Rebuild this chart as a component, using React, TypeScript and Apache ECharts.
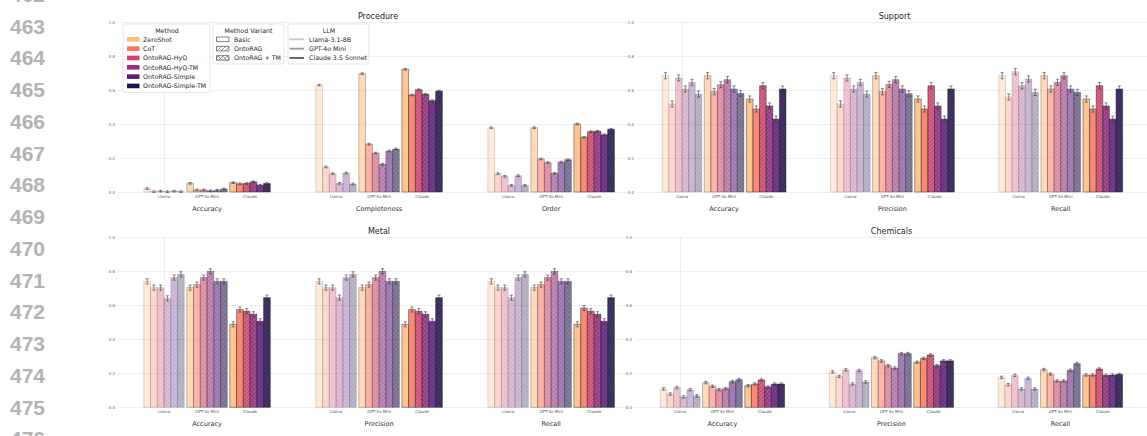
import React, { useEffect, useRef } from 'react';
import * as echarts from 'echarts';

// ---------- data ----------
const methods = ['ZeroShot', 'CoT', 'OntoRAG-HyQ', 'OntoRAG-HyQ-TM', 'OntoRAG-Simple', 'OntoRAG-Simple-TM'];
const methodColors = ['#febb81', '#f8765c', '#d3436e', '#982d80', '#5f187f', '#221150'];
const methodVariant = [0, 0, 1, 2, 1, 2]; // 0 Basic, 1 OntoRAG, 2 OntoRAG + TM
const variantNames = ['Basic', 'OntoRAG', 'OntoRAG + TM'];
const llmShort = ['Llama', 'GPT-4o Mini', 'Claude'];
const llmNames = ['Llama-3.1-8B', 'GPT-4o Mini', 'Claude 3.5 Sonnet'];
const llmAlpha = [0.3, 0.55, 0.85];
const llmLegendColors = ['#c9c9c9', '#9a9a9a', '#585858'];
const panelTitles = ['Procedure', 'Support', 'Metal', 'Chemicals'];
const procedureMetrics = ['Accuracy', 'Completeness', 'Order'];
const prfMetrics = ['Accuracy', 'Precision', 'Recall'];
const yTicks = [0, 0.2, 0.4, 0.6, 0.8, 1.0];
const lineNumbers = [462, 463, 464, 465, 466, 467, 468, 469, 470, 471, 472, 473, 474, 475, 476];

// rows: Llama, GPT-4o Mini, Claude ; columns: methods
const procedureAccuracy = [
  [0.02, 0.002, 0.005, 0.002, 0.005, 0.002],
  [0.051, 0.012, 0.012, 0.007, 0.01, 0.018],
  [0.055, 0.048, 0.05, 0.06, 0.04, 0.05],
];
const procedureCompleteness = [
  [0.629, 0.147, 0.108, 0.051, 0.112, 0.047],
  [0.696, 0.282, 0.229, 0.163, 0.241, 0.253],
  [0.722, 0.571, 0.602, 0.575, 0.537, 0.594],
];
const procedureOrder = [
  [0.378, 0.108, 0.092, 0.039, 0.096, 0.039],
  [0.378, 0.194, 0.173, 0.11, 0.176, 0.19],
  [0.4, 0.322, 0.355, 0.357, 0.337, 0.369],
];
const supportAccuracy = [
  [0.684, 0.518, 0.671, 0.606, 0.645, 0.576],
  [0.684, 0.59, 0.631, 0.661, 0.606, 0.58],
  [0.547, 0.488, 0.625, 0.506, 0.429, 0.606],
];
const supportPrecision = [
  [0.684, 0.518, 0.671, 0.606, 0.645, 0.576],
  [0.684, 0.59, 0.633, 0.661, 0.606, 0.578],
  [0.547, 0.488, 0.625, 0.506, 0.429, 0.606],
];
const supportRecall = [
  [0.684, 0.559, 0.708, 0.625, 0.665, 0.586],
  [0.684, 0.606, 0.645, 0.684, 0.606, 0.586],
  [0.547, 0.488, 0.625, 0.506, 0.429, 0.606],
];
const metalAccuracy = [
  [0.741, 0.704, 0.704, 0.641, 0.763, 0.782],
  [0.704, 0.722, 0.763, 0.8, 0.741, 0.741],
  [0.488, 0.575, 0.565, 0.547, 0.506, 0.645],
];
const metalPrecision = [
  [0.741, 0.704, 0.704, 0.645, 0.763, 0.782],
  [0.704, 0.722, 0.763, 0.8, 0.741, 0.741],
  [0.488, 0.575, 0.565, 0.547, 0.506, 0.645],
];
const metalRecall = [
  [0.741, 0.704, 0.704, 0.645, 0.763, 0.782],
  [0.704, 0.722, 0.763, 0.8, 0.741, 0.741],
  [0.488, 0.584, 0.565, 0.547, 0.506, 0.645],
];
const chemicalsAccuracy = [
  [0.108, 0.078, 0.116, 0.061, 0.104, 0.067],
  [0.145, 0.124, 0.104, 0.11, 0.151, 0.163],
  [0.127, 0.137, 0.161, 0.12, 0.137, 0.137],
];
const chemicalsPrecision = [
  [0.208, 0.182, 0.22, 0.137, 0.216, 0.149],
  [0.292, 0.273, 0.245, 0.231, 0.316, 0.316],
  [0.265, 0.288, 0.308, 0.245, 0.273, 0.273],
];
const chemicalsRecall = [
  [0.176, 0.133, 0.188, 0.108, 0.171, 0.108],
  [0.222, 0.196, 0.155, 0.155, 0.218, 0.257],
  [0.19, 0.19, 0.225, 0.188, 0.19, 0.194],
];
// half-width of the error bars per panel
const panelErrors = [0.005, 0.018, 0.015, 0.007];

const panelMetricNames = [procedureMetrics, prfMetrics, prfMetrics, prfMetrics];
const panelValues = [
  [procedureAccuracy, procedureCompleteness, procedureOrder],
  [supportAccuracy, supportPrecision, supportRecall],
  [metalAccuracy, metalPrecision, metalRecall],
  [chemicalsAccuracy, chemicalsPrecision, chemicalsRecall],
];

// ---------- layout ----------
const panelLayout = [
  { left: 118, top: 22, width: 511, xMax: 10.81, titleX: 378, titleY: 16.7 },
  { left: 637, top: 22, width: 515, xMax: 11.05, titleX: 894.5, titleY: 16.7 },
  { left: 118, top: 237.3, width: 511, xMax: 10.81, titleX: 379, titleY: 231.7 },
  { left: 635, top: 237.3, width: 517, xMax: 11.05, titleX: 891.5, titleY: 231.7 },
];
const PLOT_H = 170;
const X_MIN = -1.07;
const BW = 0.157;
const FONT = '"DejaVu Sans", sans-serif';
const TEXT_COLOR = '#262626';

function rgba(hex: string, a: number) {
  const n = parseInt(hex.slice(1), 16);
  return `rgba(${(n >> 16) & 255},${(n >> 8) & 255},${n & 255},${a})`;
}

function hatchSegs(x0: number, y0: number, x1: number, y1: number, step: number, dir: number) {
  const segs: number[][] = [];
  if (dir === 1) {
    const cmin = x0 + y0, cmax = x1 + y1;
    for (let c = Math.ceil(cmin / step) * step; c <= cmax; c += step) {
      const a = Math.max(x0, c - y1), b = Math.min(x1, c - y0);
      if (b > a) segs.push([a, c - a, b, c - b]);
    }
  } else {
    const cmin = x0 - y1, cmax = x1 - y0;
    for (let c = Math.ceil(cmin / step) * step; c <= cmax; c += step) {
      const a = Math.max(x0, c + y0), b = Math.min(x1, c + y1);
      if (b > a) segs.push([a, a - c, b, b - c]);
    }
  }
  return segs;
}

function variantSegs(variant: number, x0: number, y0: number, x1: number, y1: number) {
  if (variant === 1) return hatchSegs(x0, y0, x1, y1, 4, 1);
  if (variant === 2) return hatchSegs(x0, y0, x1, y1, 4.5, 1).concat(hatchSegs(x0, y0, x1, y1, 4.5, -1));
  return [];
}

const renderBar = (params: any, api: any) => {
  const x = api.value(0);
  const y = api.value(1);
  const err = api.value(2);
  const m = api.value(3);
  const l = api.value(4);
  const a = llmAlpha[l];
  const p0 = api.coord([x - BW / 2, y]);
  const p1 = api.coord([x + BW / 2, 0]);
  const children: any[] = [];
  children.push({
    type: 'rect',
    shape: { x: p0[0], y: p0[1], width: p1[0] - p0[0], height: p1[1] - p0[1] },
    style: { fill: rgba(methodColors[m], a), stroke: `rgba(25,25,25,${a * 0.85})`, lineWidth: 0.6 },
  });
  const segs = variantSegs(methodVariant[m], p0[0], p0[1], p1[0], p1[1]);
  if (segs.length) {
    const d = segs.map((s) => `M${s[0].toFixed(2)},${s[1].toFixed(2)}L${s[2].toFixed(2)},${s[3].toFixed(2)}`).join('');
    children.push({
      type: 'path',
      shape: { pathData: d },
      style: { fill: 'none', stroke: `rgba(20,20,20,${a * 0.55})`, lineWidth: 0.45 },
    });
  }
  const e0 = api.coord([x, y - err]);
  const e1 = api.coord([x, y + err]);
  const cap = 1.6;
  const es = { stroke: 'rgba(55,55,55,0.85)', lineWidth: 0.7 };
  children.push({ type: 'line', shape: { x1: e0[0], y1: e0[1], x2: e1[0], y2: e1[1] }, style: es });
  children.push({ type: 'line', shape: { x1: e0[0] - cap, y1: e0[1], x2: e0[0] + cap, y2: e0[1] }, style: es });
  children.push({ type: 'line', shape: { x1: e1[0] - cap, y1: e1[1], x2: e1[0] + cap, y2: e1[1] }, style: es });
  return { type: 'group', children };
};

function buildOption() {
  const grid: any[] = [];
  const xAxis: any[] = [];
  const yAxis: any[] = [];
  const series: any[] = [];
  const graphic: any[] = [];
  const llmTickValues = [0, 1, 2, 4, 5, 6, 8, 9, 10];
  const metricTickValues = [1, 5, 9];

  panelLayout.forEach((p, i) => {
    grid.push({ left: p.left, top: p.top, width: p.width, height: PLOT_H });
    const metrics = panelMetricNames[i];
    xAxis.push({
      gridIndex: i, type: 'value', position: 'bottom', min: X_MIN, max: p.xMax,
      axisLine: { show: false }, axisTick: { show: false }, splitLine: { show: false },
      axisLabel: {
        customValues: llmTickValues,
        formatter: (v: number) => llmShort[Math.round(v) % 4] || '',
        fontSize: 4, color: '#555', margin: 2.5, fontFamily: FONT,
      },
    });
    xAxis.push({
      gridIndex: i, type: 'value', position: 'bottom', offset: 0, min: X_MIN, max: p.xMax,
      axisLine: { show: false }, axisTick: { show: false }, splitLine: { show: false },
      axisLabel: {
        customValues: metricTickValues,
        formatter: (v: number) => metrics[Math.round((v - 1) / 4)] || '',
        fontSize: 6.5, color: '#333', margin: 13, fontFamily: FONT,
      },
    });
    yAxis.push({
      gridIndex: i, type: 'value', min: 0, max: 1, interval: 0.2,
      axisLine: { show: true, lineStyle: { color: '#e8e8e8', width: 0.8 } },
      axisTick: { show: false },
      splitLine: { show: true, lineStyle: { color: '#ebebeb', width: 0.8 } },
      axisLabel: {
        fontSize: 4, color: '#666', margin: 3, fontFamily: FONT,
        formatter: (v: number) => (yTicks.includes(Math.round(v * 10) / 10) ? v.toFixed(1) : ''),
      },
    });
    const data: any[] = [];
    panelValues[i].forEach((metricVals, mi) => {
      metricVals.forEach((row, li) => {
        row.forEach((val, m) => {
          data.push([mi * 4 + li + (m - 2.5) * BW, val, panelErrors[i], m, li]);
        });
      });
    });
    series.push({
      type: 'custom', name: panelTitles[i], xAxisIndex: i * 2, yAxisIndex: i,
      data, renderItem: renderBar, encode: { x: 0, y: 1 }, clip: false, silent: true,
    });
    graphic.push({
      type: 'text', x: p.titleX, y: p.titleY, z: 50,
      style: { text: panelTitles[i], fontSize: 8, fontFamily: FONT, fill: TEXT_COLOR, align: 'center', verticalAlign: 'middle' },
    });
  });

  // line numbers of the page
  lineNumbers.forEach((n) => {
    graphic.push({
      type: 'text', x: 10, y: 26 + (n - 463) * 31.75, z: 50,
      style: { text: String(n), fontSize: 21, fontWeight: 'bold', fontFamily: '"Liberation Sans", Arial, sans-serif', fill: '#b3b3b3', align: 'left', verticalAlign: 'middle' },
    });
  });

  // legend
  const txt = (text: string, x: number, y: number, align = 'left') => ({
    type: 'text', x, y, z: 102,
    style: { text, fontSize: 6.3, fontFamily: FONT, fill: TEXT_COLOR, align, verticalAlign: 'middle' },
  });
  const box = (x: number, y: number, w: number, h: number) => ({
    type: 'rect', z: 100, shape: { x, y, width: w, height: h, r: 2 },
    style: { fill: 'rgba(255,255,255,0.85)', stroke: '#d4d4d4', lineWidth: 0.6 },
  });
  const rowY = (k: number) => 39.3 + k * 9.33;

  graphic.push(box(123, 24, 87, 68.5));
  graphic.push(txt('Method', 167, 30.5, 'center'));
  methods.forEach((name, k) => {
    graphic.push({ type: 'rect', z: 101, shape: { x: 127, y: rowY(k) - 2.3, width: 12.5, height: 4.6 }, style: { fill: methodColors[k] } });
    graphic.push(txt(name, 143, rowY(k)));
  });

  graphic.push(box(213, 24, 71, 40));
  graphic.push(txt('Method Variant', 248.5, 30.5, 'center'));
  variantNames.forEach((name, k) => {
    const x0 = 216.5, y0 = rowY(k) - 2.3, x1 = 229, y1 = rowY(k) + 2.3;
    graphic.push({ type: 'rect', z: 101, shape: { x: x0, y: y0, width: x1 - x0, height: y1 - y0 }, style: { fill: '#fff', stroke: '#333', lineWidth: 0.6 } });
    variantSegs(k, x0, y0, x1, y1).forEach((s) => {
      graphic.push({ type: 'line', z: 102, shape: { x1: s[0], y1: s[1], x2: s[2], y2: s[3] }, style: { stroke: '#333', lineWidth: 0.5 } });
    });
    graphic.push(txt(name, 234, rowY(k)));
  });

  graphic.push(box(288, 24, 81, 40));
  graphic.push(txt('LLM', 329, 30.5, 'center'));
  llmNames.forEach((name, k) => {
    graphic.push({ type: 'line', z: 101, shape: { x1: 289.5, y1: rowY(k), x2: 304, y2: rowY(k) }, style: { stroke: llmLegendColors[k], lineWidth: 1.8 } });
    graphic.push(txt(name, 309, rowY(k)));
  });

  return {
    animation: false,
    backgroundColor: '#ffffff',
    textStyle: { fontFamily: FONT },
    grid, xAxis, yAxis, series, graphic,
  };
}

export default function App() {
  const ref = useRef<HTMLDivElement>(null);
  useEffect(() => {
    if (!ref.current) return;
    const chart = echarts.init(ref.current, undefined, { renderer: 'svg' });
    chart.setOption(buildOption() as any);
    return () => chart.dispose();
  }, []);
  return (
    <div
      ref={ref}
      style={{ position: 'absolute', left: 0, top: 0, width: 1147, height: 436, background: '#fff' }}
    />
  );
}
